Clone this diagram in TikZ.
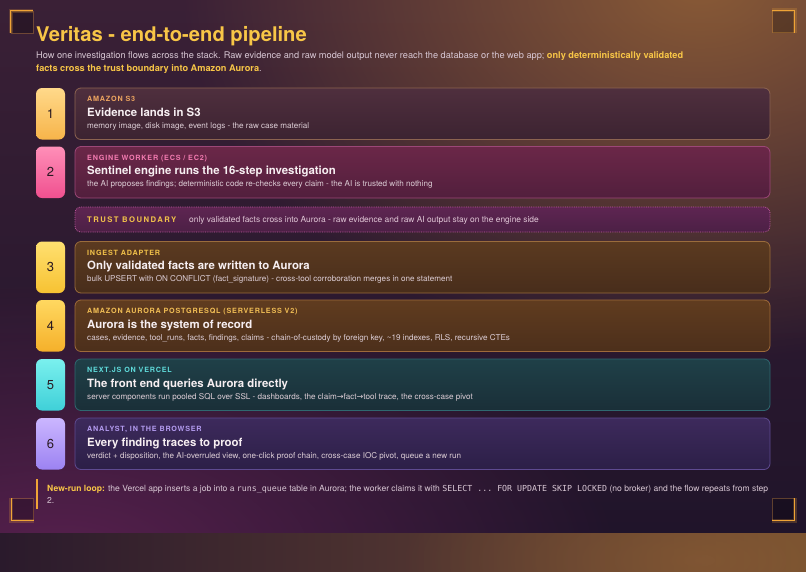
\documentclass[tikz,border=0pt]{standalone}
\usepackage{fontspec}
\setmainfont{TeX Gyre Heros}
\setmonofont{DejaVu Sans Mono}
\newfontfamily\trackfont[LetterSpace=11]{TeX Gyre Heros}
\newfontfamily\widetrack[LetterSpace=19]{TeX Gyre Heros}
\newfontfamily\symfont{DejaVu Sans}
\usetikzlibrary{fadings}
\tikzfading[name=softglow, inner color=transparent!0, outer color=transparent!100]

% background
\definecolor{panelTop}{HTML}{3A2036}
\definecolor{panelBot}{HTML}{20142A}
\definecolor{glowOr}{HTML}{8E5E36}
\definecolor{glowMag}{HTML}{5E2252}
\definecolor{stripL}{HTML}{2A1A2C}
\definecolor{stripM}{HTML}{4E3330}
\definecolor{stripR}{HTML}{74502F}
% text
\definecolor{gold}{HTML}{F8C647}
\definecolor{subtext}{HTML}{D8C7D4}
\definecolor{titlewhite}{HTML}{F7EFF2}
\definecolor{desctext}{HTML}{DCCDD5}
\definecolor{numdark}{HTML}{2A1A22}
\definecolor{accent}{HTML}{EFA437}
% step 1
\definecolor{sAbt}{HTML}{FFD98A}\definecolor{sAbb}{HTML}{F7B44A}
\definecolor{sAct}{HTML}{4F2F3E}\definecolor{sAcb}{HTML}{3C2331}
\definecolor{sAcd}{HTML}{8C6350}\definecolor{sAlab}{HTML}{EDA560}
% step 2
\definecolor{sBbt}{HTML}{FF8FB8}\definecolor{sBbb}{HTML}{F0508F}
\definecolor{sBct}{HTML}{6B2748}\definecolor{sBcb}{HTML}{521F3D}
\definecolor{sBcd}{HTML}{9C4777}\definecolor{sBlab}{HTML}{F27AB0}
% step 3
\definecolor{sCbt}{HTML}{FFE070}\definecolor{sCbb}{HTML}{F7C232}
\definecolor{sCct}{HTML}{5B3A20}\definecolor{sCcb}{HTML}{482D1B}
\definecolor{sCcd}{HTML}{9A6C3C}\definecolor{sClab}{HTML}{F2C24A}
% step 4
\definecolor{sDbt}{HTML}{FFD860}\definecolor{sDbb}{HTML}{F5B02A}
\definecolor{sDct}{HTML}{603C1F}\definecolor{sDcb}{HTML}{4C2F1B}
\definecolor{sDcd}{HTML}{9E6A3A}\definecolor{sDlab}{HTML}{F0BD55}
% step 5
\definecolor{sEbt}{HTML}{7AF0EE}\definecolor{sEbb}{HTML}{3FD0D8}
\definecolor{sEct}{HTML}{1F4048}\definecolor{sEcb}{HTML}{1A2F38}
\definecolor{sEcd}{HTML}{2F6870}\definecolor{sElab}{HTML}{5FDADA}
% step 6
\definecolor{sFbt}{HTML}{CBB6FF}\definecolor{sFbb}{HTML}{9C82F2}
\definecolor{sFct}{HTML}{3D2A5C}\definecolor{sFcb}{HTML}{2C1F47}
\definecolor{sFcd}{HTML}{5E4A90}\definecolor{sFlab}{HTML}{B49CF0}
% trust boundary
\definecolor{tbt}{HTML}{5E2552}\definecolor{tbb}{HTML}{4C2045}
\definecolor{tbd}{HTML}{C05AA0}\definecolor{tbtext}{HTML}{E0C6D6}

\newcommand{\pipestep}[7]{%
  \node[badge, top color=#3bt, bottom color=#3bb] (badge#1) at (50.5,{#2+25.75}) {#4};
  \node[card, top color=#3ct, bottom color=#3cb, draw=#3cd] (card#1) at (422.5,{#2+25.75}) {};
  \node[lbl, text=#3lab, anchor=base west] (label#1) at (87,{#2+13.7}) {#5};
  \node[ttl, anchor=base west] (title#1) at (87,{#2+28}) {#6};
  \node[dsc, anchor=base west] (desc#1) at (87,{#2+40.4}) {#7};
}

\begin{document}
\begin{tikzpicture}[x=1pt,y=-1pt,
  badge/.style={rectangle, rounded corners=6pt, minimum width=29pt, minimum height=51.5pt,
    inner sep=0pt, font=\fontsize{13}{13}\selectfont, text=numdark},
  card/.style={rectangle, rounded corners=6pt, minimum width=695pt, minimum height=51.5pt, line width=0.8pt},
  lbl/.style={inner sep=0pt, font=\trackfont\bfseries\fontsize{7.2}{8}\selectfont},
  ttl/.style={inner sep=0pt, font=\bfseries\fontsize{11.4}{13}\selectfont, text=titlewhite},
  dsc/.style={inner sep=0pt, font=\fontsize{8.1}{10}\selectfont, text=desctext},
  cornerbox/.style={rectangle, minimum size=22pt, inner sep=0pt, fill=black, fill opacity=0.25,
    draw=accent, draw opacity=0.3, line width=0.6pt},
  cornerglow/.style={draw=accent, line width=4pt, opacity=0.22},
  cornerline/.style={draw=accent, line width=1.3pt},
]
\path[use as bounding box] (0,0) rectangle (806,571);

% bottom strip background
\shade[left color=stripL, right color=stripR, middle color=stripM] (0,531) rectangle (806,571);
\begin{scope}
  \clip (0,531) rectangle (806,571);
  \fill[glowOr, path fading=softglow, opacity=0.6] (700,560) ellipse (300 and 120);
\end{scope}

% panel background
\begin{scope}
  \clip (0,0) rectangle (806,532);
  \shade[top color=panelTop, bottom color=panelBot] (0,0) rectangle (806,532);
  \fill[glowOr, path fading=softglow, opacity=0.95] (700,-20) ellipse (520 and 380);
  \fill[glowMag, path fading=softglow, opacity=0.9] (60,560) ellipse (560 and 280);
\end{scope}

% corner marks
\node[cornerbox] (ctl) at (22,22) {};
\node[cornerbox] (ctr) at (783.5,21.5) {};
\node[cornerbox] (cbl) at (22.5,509.5) {};
\node[cornerbox] (cbr) at (783.5,509.5) {};
\draw[cornerglow] (ctl.south west) -- (ctl.north west) -- (ctl.north east);
\draw[cornerline] (ctl.south west) -- (ctl.north west) -- (ctl.north east);
\draw[cornerglow] (ctr.north west) -- (ctr.north east) -- (ctr.south east);
\draw[cornerline] (ctr.north west) -- (ctr.north east) -- (ctr.south east);
\draw[cornerglow] (cbl.north west) -- (cbl.south west) -- (cbl.south east);
\draw[cornerline] (cbl.north west) -- (cbl.south west) -- (cbl.south east);
\draw[cornerglow] (cbr.north east) -- (cbr.south east) -- (cbr.south west);
\draw[cornerline] (cbr.north east) -- (cbr.south east) -- (cbr.south west);

% heading
\node[anchor=base west, inner sep=0pt, text=gold, font=\bfseries\fontsize{20.2}{24}\selectfont] (title) at (36,41.7) {Veritas - end-to-end pipeline};
\node[anchor=base west, inner sep=0pt, text=subtext, font=\fontsize{9.2}{11}\selectfont] (sub1) at (36,58.8)
  {How one investigation flows across the stack. Raw evidence and raw model output never reach the database or the web app; \textcolor{gold}{\bfseries only deterministically validated}};
\node[anchor=base west, inner sep=0pt, text=subtext, font=\fontsize{9.2}{11}\selectfont] (sub2) at (36,71.4)
  {\textcolor{gold}{\bfseries facts cross the trust boundary into Amazon Aurora}.};

% steps
\pipestep{1}{88}{sA}{1}{AMAZON S3}{Evidence lands in S3}{memory image, disk image, event logs - the raw case material}
\pipestep{2}{146.5}{sB}{2}{ENGINE WORKER (ECS / EC2)}{Sentinel engine runs the 16-step investigation}{the AI proposes findings; deterministic code re-checks every claim - the AI is trusted with nothing}

% trust boundary
\node[rectangle, rounded corners=6pt, minimum width=695pt, minimum height=25pt, top color=tbt, bottom color=tbb,
  draw=tbd, densely dotted, line width=0.8pt] (trust) at (422.5,219.5) {};
\node[anchor=base west, inner sep=0pt, text=sClab, font=\widetrack\bfseries\fontsize{7.7}{9}\selectfont] (trustlabel) at (87,222.4) {TRUST BOUNDARY};
\node[anchor=base west, inner sep=0pt, text=tbtext, font=\fontsize{8.4}{10}\selectfont] (trusttext) at (189,222.4)
  {only validated facts cross into Aurora - raw evidence and raw AI output stay on the engine side};

\pipestep{3}{241.5}{sC}{3}{INGEST ADAPTER}{Only validated facts are written to Aurora}{bulk UPSERT with ON CONFLICT (fact\_signature) - cross-tool corroboration merges in one statement}
\pipestep{4}{300}{sD}{4}{AMAZON AURORA POSTGRESQL (SERVERLESS V2)}{Aurora is the system of record}{cases, evidence, tool\_runs, facts, findings, claims - chain-of-custody by foreign key, \textasciitilde19 indexes, RLS, recursive CTEs}
\pipestep{5}{359}{sE}{5}{NEXT.JS ON VERCEL}{The front end queries Aurora directly}{server components run pooled SQL over SSL - dashboards, the claim{\symfont →}fact{\symfont →}tool trace, the cross-case pivot}
\pipestep{6}{418}{sF}{6}{ANALYST, IN THE BROWSER}{Every finding traces to proof}{verdict + disposition, the AI-overruled view, one-click proof chain, cross-case IOC pivot, queue a new run}

% new-run loop note
\coordinate (bartop) at (37,479);
\coordinate (barbot) at (37,509);
\draw[accent, line width=2pt] (bartop) -- (barbot);
\node[anchor=base west, inner sep=0pt, text=subtext, font=\fontsize{8.55}{10}\selectfont] (note1) at (47,491.7)
  {\textcolor{gold}{\bfseries New-run loop:} the Vercel app inserts a job into a {\ttfamily\fontsize{8.3}{9}\selectfont runs\_queue} table in Aurora; the worker claims it with {\ttfamily\fontsize{8.3}{9}\selectfont SELECT ... FOR UPDATE SKIP LOCKED} (no broker) and the flow repeats from step};
\node[anchor=base west, inner sep=0pt, text=subtext, font=\fontsize{8.55}{10}\selectfont] (note2) at (47,503.4) {2.};
\end{tikzpicture}
\end{document}
